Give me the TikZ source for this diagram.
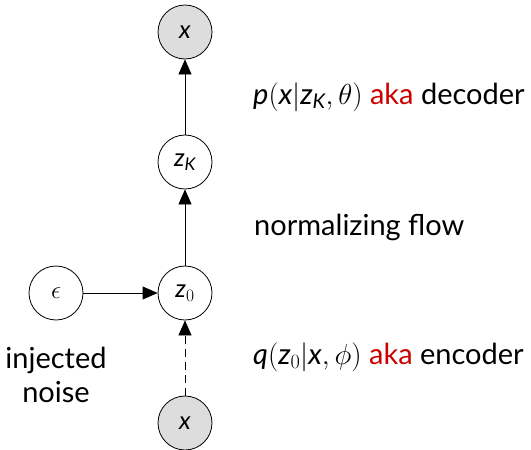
\RequirePackage{fix-cm}
\documentclass[tikz,border=0pt]{standalone}
\usepackage{amsmath}
\usepackage[no-math]{fontspec}
\setmainfont{Lato}
\usetikzlibrary{arrows.meta}
\definecolor{akared}{HTML}{CC0000}
\definecolor{nodegray}{HTML}{DDDDDD}
\newcommand\mv[1]{\textit{#1}}
\tikzset{
  var/.style={circle,draw,line width=0.8pt,minimum size=54pt,inner sep=0pt,font=\fontsize{25}{29}\selectfont},
  obs/.style={var,fill=nodegray},
  arr/.style={line width=0.8pt,-{Triangle[length=15pt,width=13pt]}},
  lab/.style={anchor=west,font=\fontsize{29}{34}\selectfont,inner sep=0pt},
}
\begin{document}
\begin{tikzpicture}[x=1pt,y=-1pt]
\useasboundingbox (0,0) rectangle (531,450);
\node[obs] (xt) at (185,32) {$\mv{x}$};
\node[var] (zK) at (185,162) {$\mv{z}_{\mv{K}}$};
\node[var] (z0) at (185,293) {$\mv{z}_0$};
\node[var] (eps) at (56,293) {$\epsilon$};
\node[obs] (xb) at (185,423) {$\mv{x}$};
\draw[arr] (zK) -- (xt);
\draw[arr] (z0) -- (zK);
\draw[arr] (eps) -- (z0);
\draw[arr,dash pattern=on 8pt off 5pt] (xb) -- (z0);
\node[lab] (dec) at (253,97) {$\mv{p}(\mv{x}|\mv{z}_{\mv{K}},\theta)$ \textcolor{akared}{aka} decoder};
\node[lab] (flow) at (254,227) {normalizing flow};
\node[lab] (enc) at (253,357) {$\mv{q}(\mv{z}_0|\mv{x},\phi)$ \textcolor{akared}{aka} encoder};
\node[font=\fontsize{29}{34}\selectfont,align=center,inner sep=0pt] (noise) at (56,375) {injected\\noise};
\end{tikzpicture}
\end{document}
